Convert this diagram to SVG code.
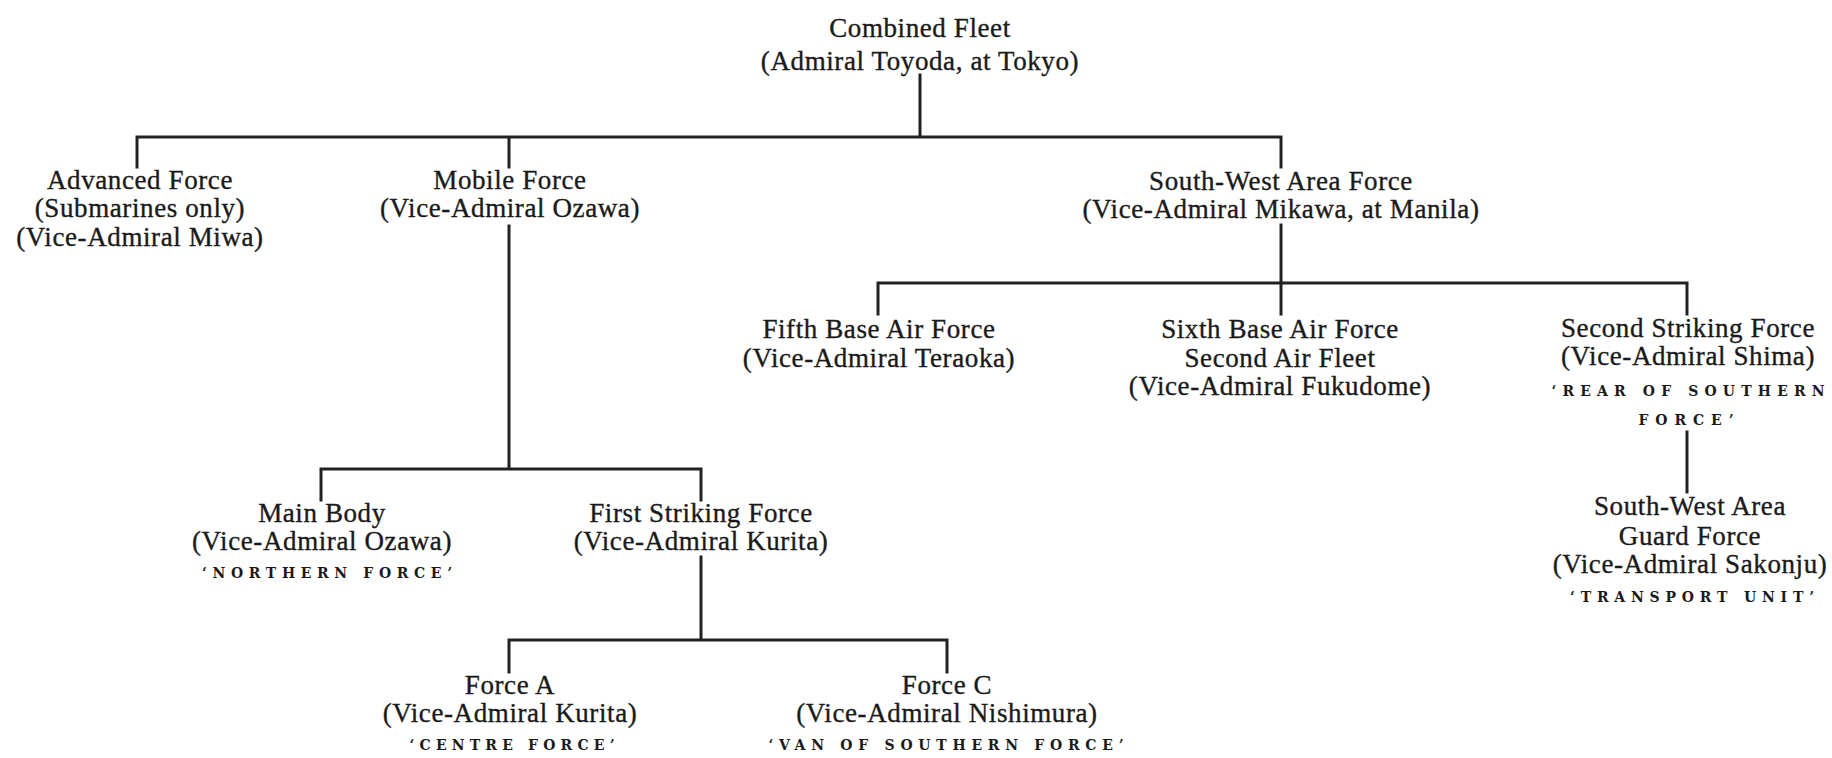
<svg xmlns="http://www.w3.org/2000/svg" width="1832" height="758" viewBox="0 0 1832 758">
<style>
  .t { font-family: "Liberation Serif", "Times New Roman", serif; font-size: 27px; letter-spacing: 0.6px; fill: #1a1a1a; stroke: #1a1a1a; stroke-width: 0.35px; text-anchor: middle; }
  .sc { font-family: "DejaVu Serif", "Liberation Serif", serif; font-size: 14px; font-weight: bold; fill: #1a1a1a; text-anchor: middle; }
  .ln { fill: none; stroke: #222; stroke-width: 3; stroke-linecap: square; }
</style>
<rect width="1832" height="758" fill="#ffffff"/>
<g id="connectors" class="ln">
  <path d="M920,75 V137 M137,137 H1281 M137,137 V167 M509,137 V167 M1281,137 V167"/>
  <path d="M509,226 V469 M321,469 H701 M321,469 V500 M701,469 V500"/>
  <path d="M701,557 V640 M509,640 H947 M509,640 V672 M947,640 V672"/>
  <path d="M1281,225 V283 M878,283 H1687 M878,283 V314 M1281,283 V314 M1687,283 V314"/>
  <path d="M1687,432 V492"/>
</g>
<g id="combined-fleet">
  <text class="t" x="920" y="37">Combined Fleet</text>
  <text class="t" x="920" y="70">(Admiral Toyoda, at Tokyo)</text>
</g>
<g id="advanced-force">
  <text class="t" x="140" y="189">Advanced Force</text>
  <text class="t" x="140" y="217">(Submarines only)</text>
  <text class="t" x="140" y="246">(Vice-Admiral Miwa)</text>
</g>
<g id="mobile-force">
  <text class="t" x="510" y="189">Mobile Force</text>
  <text class="t" x="510" y="217">(Vice-Admiral Ozawa)</text>
</g>
<g id="south-west-area-force">
  <text class="t" x="1281" y="190">South-West Area Force</text>
  <text class="t" x="1281" y="218">(Vice-Admiral Mikawa, at Manila)</text>
</g>
<g id="fifth-base-air-force">
  <text class="t" x="879" y="338">Fifth Base Air Force</text>
  <text class="t" x="879" y="367">(Vice-Admiral Teraoka)</text>
</g>
<g id="sixth-base-air-force">
  <text class="t" x="1280" y="338">Sixth Base Air Force</text>
  <text class="t" x="1280" y="367">Second Air Fleet</text>
  <text class="t" x="1280" y="395">(Vice-Admiral Fukudome)</text>
</g>
<g id="second-striking-force">
  <text class="t" x="1688" y="337">Second Striking Force</text>
  <text class="t" x="1688" y="365">(Vice-Admiral Shima)</text>
  <text class="sc" x="1688" y="396" textLength="273" lengthAdjust="spacing">‘REAR OF SOUTHERN</text>
  <text class="sc" x="1686" y="425" textLength="95" lengthAdjust="spacing">FORCE’</text>
</g>
<g id="south-west-area-guard-force">
  <text class="t" x="1690" y="515">South-West Area</text>
  <text class="t" x="1690" y="545">Guard Force</text>
  <text class="t" x="1690" y="573">(Vice-Admiral Sakonju)</text>
  <text class="sc" x="1692" y="602" textLength="244" lengthAdjust="spacing">‘TRANSPORT UNIT’</text>
</g>
<g id="main-body">
  <text class="t" x="322" y="522">Main Body</text>
  <text class="t" x="322" y="550">(Vice-Admiral Ozawa)</text>
  <text class="sc" x="327" y="578" textLength="250" lengthAdjust="spacing">‘NORTHERN FORCE’</text>
</g>
<g id="first-striking-force">
  <text class="t" x="701" y="522">First Striking Force</text>
  <text class="t" x="701" y="550">(Vice-Admiral Kurita)</text>
</g>
<g id="force-a">
  <text class="t" x="510" y="694">Force A</text>
  <text class="t" x="510" y="722">(Vice-Admiral Kurita)</text>
  <text class="sc" x="512" y="750" textLength="205" lengthAdjust="spacing">‘CENTRE FORCE’</text>
</g>
<g id="force-c">
  <text class="t" x="947" y="694">Force C</text>
  <text class="t" x="947" y="722">(Vice-Admiral Nishimura)</text>
  <text class="sc" x="946" y="750" textLength="355" lengthAdjust="spacing">‘VAN OF SOUTHERN FORCE’</text>
</g>
</svg>
